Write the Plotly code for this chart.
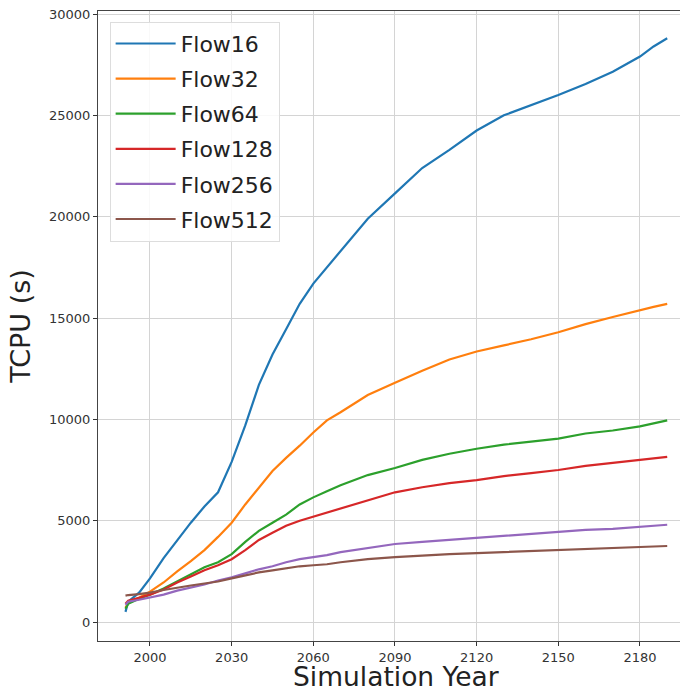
import plotly.graph_objects as go

# Simulation years at which cumulative CPU time was sampled
years = [1991, 1992, 1996, 2000, 2005, 2010, 2015, 2020, 2025, 2030, 2035,
         2040, 2045, 2050, 2055, 2060, 2065, 2070, 2080, 2090, 2100, 2110,
         2120, 2130, 2140, 2150, 2160, 2170, 2180, 2185, 2190]

# Cumulative CPU time (s) per configuration
flow16 = [500, 1000, 1450, 2150, 3150, 4050, 4900, 5700, 6400, 7900, 9700,
          11700, 13200, 14450, 15700, 16700, 17500, 18350, 19900, 21150, 22400, 23300,
          24250, 25000, 25500, 26000, 26550, 27150, 27900, 28400, 28800]
flow32 = [700, 950, 1200, 1500, 1950, 2500, 3000, 3550, 4200, 4900, 5800,
          6650, 7450, 8100, 8700, 9350, 9950, 10350, 11200, 11800, 12400, 12950,
          13350, 13650, 13950, 14300, 14700, 15050, 15400, 15550, 15700]
flow64 = [650, 900, 1150, 1350, 1650, 2000, 2350, 2700, 2950, 3350, 3950,
          4500, 4900, 5300, 5800, 6150, 6450, 6750, 7250, 7600, 8000, 8300,
          8550, 8750, 8900, 9050, 9300, 9450, 9650, 9800, 9950]
flow128 = [900, 1050, 1200, 1350, 1600, 1950, 2250, 2550, 2800, 3100, 3550,
           4050, 4400, 4750, 5000, 5200, 5400, 5600, 6000, 6400, 6650, 6850,
           7000, 7200, 7350, 7500, 7700, 7850, 8000, 8100, 8150]
flow256 = [850, 1000, 1100, 1200, 1350, 1550, 1700, 1850, 2050, 2200, 2400,
           2600, 2750, 2950, 3100, 3200, 3300, 3450, 3650, 3850, 3950, 4050,
           4150, 4250, 4350, 4450, 4550, 4600, 4700, 4750, 4800]
flow512 = [1300, 1330, 1380, 1450, 1580, 1700, 1800, 1900, 2000, 2150, 2300,
           2450, 2550, 2650, 2750, 2800, 2850, 2950, 3100, 3200, 3280, 3350,
           3400, 3450, 3500, 3550, 3600, 3650, 3700, 3720, 3750]

names = ["Flow16", "Flow32", "Flow64", "Flow128", "Flow256", "Flow512"]
series = [flow16, flow32, flow64, flow128, flow256, flow512]
colors = ["#1f77b4", "#ff7f0e", "#2ca02c", "#d62728", "#9467bd", "#8c564b"]

x_ticks = [2000, 2030, 2060, 2090, 2120, 2150, 2180]
y_ticks = [0, 5000, 10000, 15000, 20000, 25000, 30000]

fig = go.Figure()
for name, vals, col in zip(names, series, colors):
    fig.add_trace(go.Scatter(x=years, y=vals, mode="lines", name=name,
                             legendgroup=name,
                             line=dict(color=col, width=2.2)))

font_family = "DejaVu Sans, sans-serif"

# x-axis title, centred under the 1981-2200 span of the year axis
fig.add_annotation(text="Simulation Year", xref="x", yref="paper",
                   x=2090.5, y=-35.5 / 630, xanchor="center", yanchor="middle",
                   showarrow=False, borderpad=0,
                   font=dict(size=26.5, color="#222222", family=font_family))

fig.update_layout(
    width=680, height=689,
    margin=dict(l=98, r=0, t=11, b=48),
    paper_bgcolor="white", plot_bgcolor="white",
    font=dict(family=font_family, color="#333333"),
    showlegend=True,
    legend=dict(x=0.02, y=0.983, xanchor="left", yanchor="top",
                font=dict(size=22, color="#222222", family=font_family),
                itemwidth=60, tracegroupgap=3.5,
                bgcolor="rgba(255,255,255,0.85)", bordercolor="#dddddd", borderwidth=1),
    xaxis=dict(range=[1980.9, 2194.7], tickvals=x_ticks, tickformat="d",
               ticks="outside", ticklen=4, tickcolor="#333333",
               tickfont=dict(size=13, color="#333333"),
               showgrid=True, gridcolor="#d4d4d4", gridwidth=1,
               showline=True, linecolor="#444444", linewidth=1.2, mirror=True,
               zeroline=False),
    yaxis=dict(range=[-937, 30148], tickvals=y_ticks, tickformat="d",
               ticks="outside", ticklen=4, tickcolor="#333333",
               tickfont=dict(size=13, color="#333333"),
               showgrid=True, gridcolor="#d4d4d4", gridwidth=1,
               showline=True, linecolor="#444444", linewidth=1.2,
               zeroline=False,
               title=dict(text="TCPU (s)", font=dict(size=27, color="#222222"),
                          standoff=10)),
)

fig.write_html("out.html")
